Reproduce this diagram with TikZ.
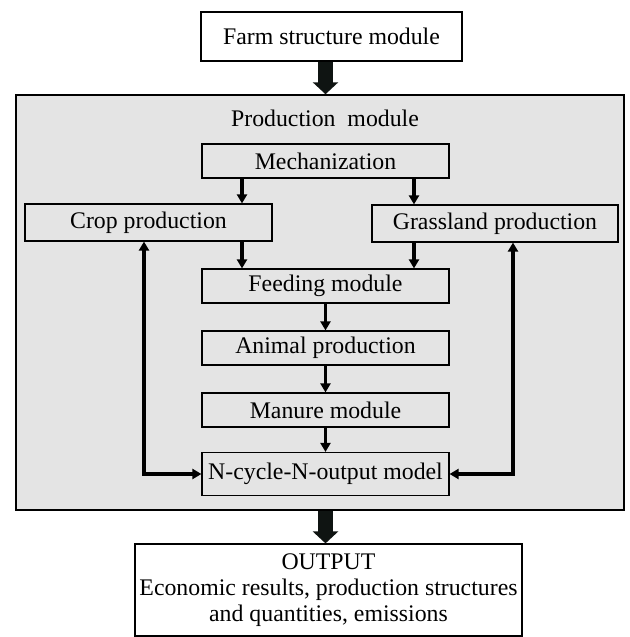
\documentclass[tikz,border=0pt]{standalone}
\usepackage{fontspec}
\setmainfont{Liberation Serif}
\usetikzlibrary{arrows.meta,calc}
\definecolor{panel}{RGB}{228,228,228}
\begin{document}
\begin{tikzpicture}[x=1pt,y=-1pt,
  txt/.style={font=\fontsize{23.8}{26}\selectfont, inner sep=0pt},
  box/.style={txt, draw=black, line width=1.2pt, fill=panel},
  wbox/.style={txt, draw=black, line width=1.2pt, fill=white},
  arr/.style={line width=3.4pt, -{Triangle[width=10pt,length=9pt]}},
  darr/.style={line width=3.4pt, {Triangle[width=10pt,length=9pt]}-{Triangle[width=10pt,length=9pt]}},
  bigarr/.style={line width=15pt, draw={rgb,255:red,15;green,20;blue,18}, -{Triangle[width=25pt,length=12pt]}}
]
\useasboundingbox (0,0) rectangle (629,637);
% production panel
\node[draw=black, line width=1.5pt, fill=panel, minimum width=608pt, minimum height=415pt, inner sep=0pt] (prod) at (320,302.5) {};
\node[txt] (prodlabel) at (325,118) {Production\ \ module};
% top and bottom boxes
\node[wbox, minimum width=261pt, minimum height=49pt] (farm) at (331.5,36.5) {Farm structure module};
\node[wbox, minimum width=387pt, minimum height=92pt, align=center] (out) at (328.5,590) {OUTPUT\\Economic results, production structures\\and quantities, emissions};
% inner boxes
\node[box, minimum width=247pt, minimum height=34pt] (mech) at (325.5,161) {Mechanization};
\node[box, minimum width=247pt, minimum height=37pt] (crop) at (148.5,222.5) {Crop production};
\node[box, minimum width=246pt, minimum height=37pt] (grass) at (495,223.5) {Grassland production};
\node[box, minimum width=247pt, minimum height=34pt] (feed) at (325.5,286) {Feeding module};
\node[box, minimum width=247pt, minimum height=34pt] (anim) at (325.5,348) {Animal production};
\node[box, minimum width=247pt, minimum height=34pt] (manure) at (325.5,410) {Manure module};
\node[box, minimum width=247pt, minimum height=43pt] (ncycle) at (325.5,474) {N-cycle-N-output model};
% big arrows
\draw[bigarr] (mech |- farm.south) -- (mech |- prod.north);
\draw[bigarr] (mech |- prod.south) -- (mech |- out.north);
% small arrows
\coordinate (lx) at ([xshift=-83.5pt]mech.south);
\coordinate (rx) at ([xshift=88.5pt]mech.south);
\draw[arr] (lx) -- (lx |- crop.north);
\draw[arr] (rx) -- (rx |- grass.north);
\draw[arr] (lx |- crop.south) -- (lx |- feed.north);
\draw[arr] (rx |- grass.south) -- (rx |- feed.north);
\draw[arr] (feed.south) -- (anim.north);
\draw[arr] (anim.south) -- (manure.north);
\draw[arr] (manure.south) -- (ncycle.north);
% feedback connectors
\draw[darr] ([xshift=-4.5pt]crop.south) |- (ncycle.west);
\draw[darr] ([xshift=18pt]grass.south) |- (ncycle.east);
\end{tikzpicture}
\end{document}
